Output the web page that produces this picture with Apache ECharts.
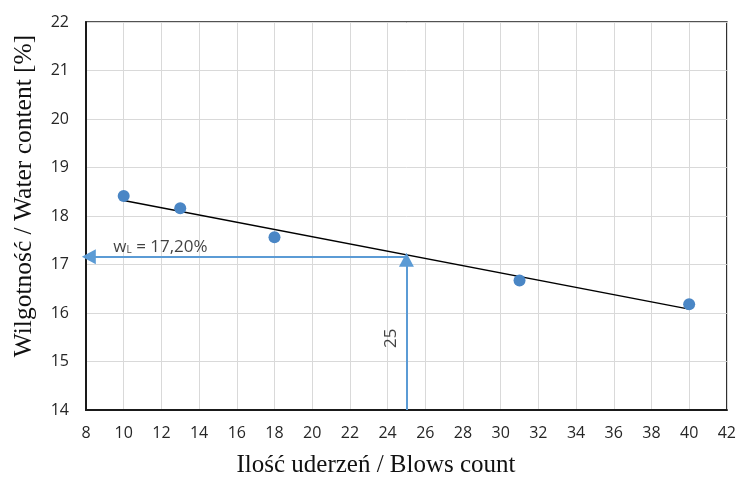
<!DOCTYPE html>
<html>
<head>
<meta charset="utf-8">
<script src="https://cdn.jsdelivr.net/npm/echarts@6/dist/echarts.min.js"></script>
<style>
  html, body { margin: 0; padding: 0; background: #fff; }
  #chart { width: 739px; height: 479px; }
</style>
</head>
<body>
<div id="chart"></div>
<script>
// measured points
const blows = [10, 13, 18, 31, 40];
const waterContent = [18.41, 18.16, 17.56, 16.67, 16.18];

// trend line ends
const trendBlows = [10, 40];
const trendWater = [18.32, 16.08];

// liquid limit read-out (arrow ends as drawn)
const llBlows = 25;
const llArrowTop = 17.1;
const llArrowY = 17.16;
const llArrowLeft = 8.15;
const xMin = 8, xMax = 42, yMin = 14, yMax = 22;

const blue = '#5b9bd5';
const chart = echarts.init(document.getElementById('chart'));

chart.setOption({
    animation: false,
    grid: {
        left: 86, right: 10, top: 22, bottom: 69,
        show: true,
        borderColor: '#1a1a1a',
        borderWidth: 1.5
    },
    xAxis: {
        type: 'value',
        min: xMin, max: xMax, interval: 2,
        axisLine: { show: true, onZero: false, lineStyle: { color: '#1a1a1a', width: 2 } },
        axisTick: { show: false },
        axisLabel: { color: '#262626', fontFamily: 'Open Sans', fontSize: 16, margin: 15 },
        splitLine: { show: true, lineStyle: { color: '#d9d9d9', width: 1 } }
    },
    yAxis: {
        type: 'value',
        min: yMin, max: yMax, interval: 1,
        axisLine: { show: true, onZero: false, lineStyle: { color: '#1a1a1a', width: 2 } },
        axisTick: { show: false },
        axisLabel: { color: '#262626', fontFamily: 'Open Sans', fontSize: 16, margin: 17 },
        splitLine: { show: true, lineStyle: { color: '#d9d9d9', width: 1 } }
    },
    graphic: [
        {
            type: 'text', x: 376, y: 465,
            style: {
                text: 'Ilość uderzeń / Blows count',
                font: '25px "Liberation Serif"',
                fill: '#111', align: 'center', verticalAlign: 'middle'
            }
        },
        {
            type: 'text', x: 24, y: 196, rotation: Math.PI / 2,
            style: {
                text: 'Wilgotność / Water content [%]',
                font: '25.5px "Liberation Serif"',
                fill: '#111', align: 'center', verticalAlign: 'middle'
            }
        }
    ],
    series: [
        {
            type: 'line',
            data: trendBlows.map((b, i) => [b, trendWater[i]]),
            showSymbol: false,
            lineStyle: { color: '#000', width: 1.5 },
            z: 3
        },
        {
            type: 'line',
            data: [[llBlows, yMin], [llBlows, llArrowTop]],
            showSymbol: false,
            lineStyle: { width: 0 },
            markLine: {
                silent: true,
                symbol: ['none', 'triangle'],
                symbolSize: [15, 14],
                lineStyle: { color: blue, width: 2, type: 'solid' },
                label: { show: false },
                data: [
                    [{ coord: [llBlows, yMin] }, { coord: [llBlows, llArrowTop] }],
                    [{ coord: [llBlows, llArrowY] }, { coord: [llArrowLeft, llArrowY] }]
                ]
            },
            z: 2
        },
        {
            type: 'scatter',
            data: blows.map((b, i) => [b, waterContent[i]]),
            symbolSize: 12,
            itemStyle: { color: '#4a86c5', opacity: 1 },
            z: 4
        },
        {
            type: 'scatter',
            symbolSize: 0,
            data: [[9.45, 17.36]],
            label: {
                show: true,
                position: 'right',
                distance: 0,
                formatter: '{a|w}{s|L}{a| = 17,20%}',
                rich: {
                    a: { fontFamily: 'Open Sans', fontSize: 17, color: '#111' },
                    s: { fontFamily: 'Open Sans', fontSize: 10, color: '#111', padding: [7, 0, 0, 0] }
                }
            }
        },
        {
            type: 'scatter',
            symbolSize: 0,
            data: [[24.2, 15.48]],
            label: {
                show: true,
                position: 'inside',
                rotate: 90,
                formatter: String(llBlows),
                fontFamily: 'Open Sans', fontSize: 17, color: '#111'
            }
        }
    ]
});
</script>
</body>
</html>
